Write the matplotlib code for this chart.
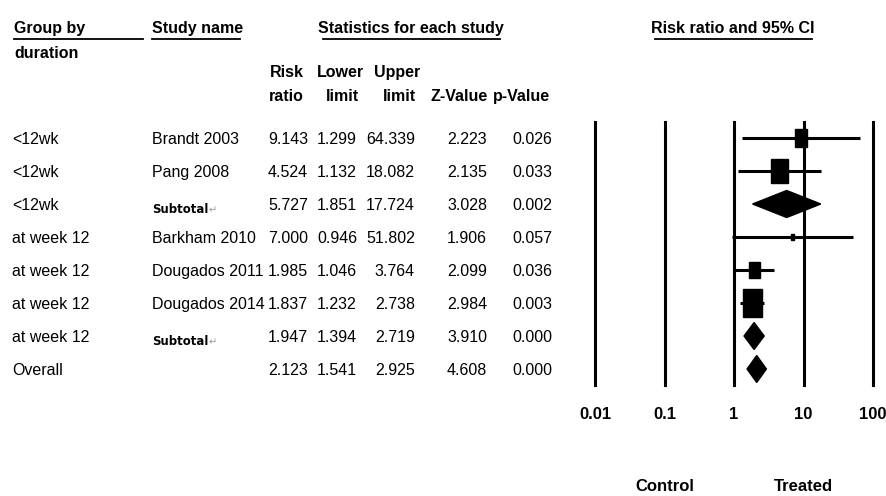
# forest plot: risk ratio by duration group
import matplotlib
matplotlib.use('Agg')
import matplotlib.pyplot as plt
from matplotlib.patches import Rectangle, Polygon
from matplotlib.lines import Line2D
from matplotlib.transforms import blended_transform_factory

# datos
groups = ['<12wk', '<12wk', '<12wk', 'at week 12', 'at week 12',
          'at week 12', 'at week 12', 'Overall']
studies = ['Brandt 2003', 'Pang 2008', 'Subtotal', 'Barkham 2010',
           'Dougados 2011', 'Dougados 2014', 'Subtotal', '']
kinds = ['study', 'study', 'subtotal', 'study', 'study', 'study',
         'subtotal', 'overall']
risk_ratio = [9.143, 4.524, 5.727, 7.000, 1.985, 1.837, 1.947, 2.123]
lower = [1.299, 1.132, 1.851, 0.946, 1.046, 1.232, 1.394, 1.541]
upper = [64.339, 18.082, 17.724, 51.802, 3.764, 2.738, 2.719, 2.925]
z_value = [2.223, 2.135, 3.028, 1.906, 2.099, 2.984, 3.910, 4.608]
p_value = [0.026, 0.033, 0.002, 0.057, 0.036, 0.003, 0.000, 0.000]
ticks = [0.01, 0.1, 1, 10, 100]
tick_labels = ['0.01', '0.1', '1', '10', '100']

# tamano de los cuadrados (px), solo para los estudios
box_px = {0: 12, 1: 17, 3: 3.5, 4: 11, 5: 19}

W, H = 886, 496
plt.rcParams['font.family'] = ['Liberation Sans', 'DejaVu Sans']
FS = 11.5

fig = plt.figure(figsize=(W / 100, H / 100), dpi=100)
fig.patch.set_facecolor('white')

# ejes del grafico de bosque
ax_left, ax_right, ax_top, ax_bot = 595, 873, 122, 385
ax = fig.add_axes([ax_left / W, 1 - ax_bot / H, (ax_right - ax_left) / W,
                   (ax_bot - ax_top) / H])
ax.set_xscale('log')
ax.set_xlim(ticks[0], ticks[-1])
n = len(risk_ratio)
row_px = 33
pad = 16 / row_px
ax.set_ylim(n - 1 + pad, -pad)
for s in ax.spines.values():
    s.set_visible(False)
ax.set_yticks([])
ax.set_xticks(ticks)
ax.set_xticklabels(tick_labels, fontsize=FS + 0.5, fontweight='bold')
ax.minorticks_off()
ax.tick_params(axis='x', length=0, pad=16)
ax.patch.set_alpha(0)

for t in ticks:
    ax.axvline(t, color='black', lw=2.2, clip_on=False)

decade_px = (ax_right - ax_left) / 4
for i in range(n):
    rr, lo, hi = risk_ratio[i], lower[i], upper[i]
    if kinds[i] == 'study':
        ax.plot([lo, hi], [i, i], color='black', lw=2.2, solid_capstyle='butt')
        hw = box_px[i] / 2 / decade_px
        h = box_px[i] * 1.45 / row_px
        x0, x1 = rr * 10 ** (-hw), rr * 10 ** hw
        ax.add_patch(Rectangle((x0, i - h / 2), x1 - x0, h, color='black'))
    else:
        h = 27 / row_px
        ax.add_patch(Polygon([(lo, i), (rr, i - h / 2), (hi, i), (rr, i + h / 2)],
                             closed=True, color='black'))

# Control / Treated
tr_ax = blended_transform_factory(ax.transData, fig.transFigure)
ax.text(0.1, 1 - 485 / H, 'Control', transform=tr_ax, ha='center',
        va='center_baseline', fontsize=FS + 0.5, fontweight='bold')
ax.text(10, 1 - 485 / H, 'Treated', transform=tr_ax, ha='center',
        va='center_baseline', fontsize=FS + 0.5, fontweight='bold')


def fx(px):
    return px / W


def fy(py):
    return 1 - py / H


def head(x, y, s, ha='left'):
    fig.text(fx(x), fy(y), s, ha=ha, va='center_baseline', fontsize=FS,
             fontweight='bold')


def underline(x0, x1, y):
    fig.add_artist(Line2D([fx(x0), fx(x1)], [fy(y), fy(y)], color='black', lw=1.3,
                          transform=fig.transFigure))


# encabezados
head(14, 27, 'Group by')
underline(14, 143, 39)
head(14, 52, 'duration')
head(152, 27, 'Study name')
underline(152, 240, 39)
head(411, 27, 'Statistics for each study', ha='center')
underline(323, 500, 39)
head(733, 27, 'Risk ratio and 95% CI', ha='center')
underline(655, 812, 39)
head(304, 71, 'Risk', ha='right')
head(304, 95, 'ratio', ha='right')
head(340, 71, 'Lower', ha='center')
head(342, 95, 'limit', ha='center')
head(397, 71, 'Upper', ha='center')
head(416, 95, 'limit', ha='right')
head(459, 95, 'Z-Value', ha='center')
head(521, 95, 'p-Value', ha='center')

# filas de la tabla
tr_row = blended_transform_factory(fig.transFigure, ax.transData)
col_right = [308, 357, 415, 487, 552]
for i in range(n):
    fig.text(fx(12), i, groups[i], transform=tr_row, ha='left',
             va='center_baseline', fontsize=FS)
    if kinds[i] == 'subtotal':
        t = fig.text(fx(152), i + 0.12, 'Subtotal', transform=tr_row, ha='left',
                     va='center_baseline', fontsize=8.5, fontweight='bold',
                     family='DejaVu Sans')
        ax.annotate('\u21b5', xy=(1, 0.4), xycoords=t, ha='left', va='center',
                    fontsize=7, color='#999999', family='DejaVu Sans',
                    annotation_clip=False)
    elif studies[i]:
        fig.text(fx(152), i, studies[i], transform=tr_row, ha='left',
                 va='center_baseline', fontsize=FS)
    vals = [risk_ratio[i], lower[i], upper[i], z_value[i], p_value[i]]
    for x, v in zip(col_right, vals):
        fig.text(fx(x), i, f'{v:.3f}', transform=tr_row, ha='right',
                 va='center_baseline', fontsize=FS)

fig.savefig('out.png', dpi=100)
